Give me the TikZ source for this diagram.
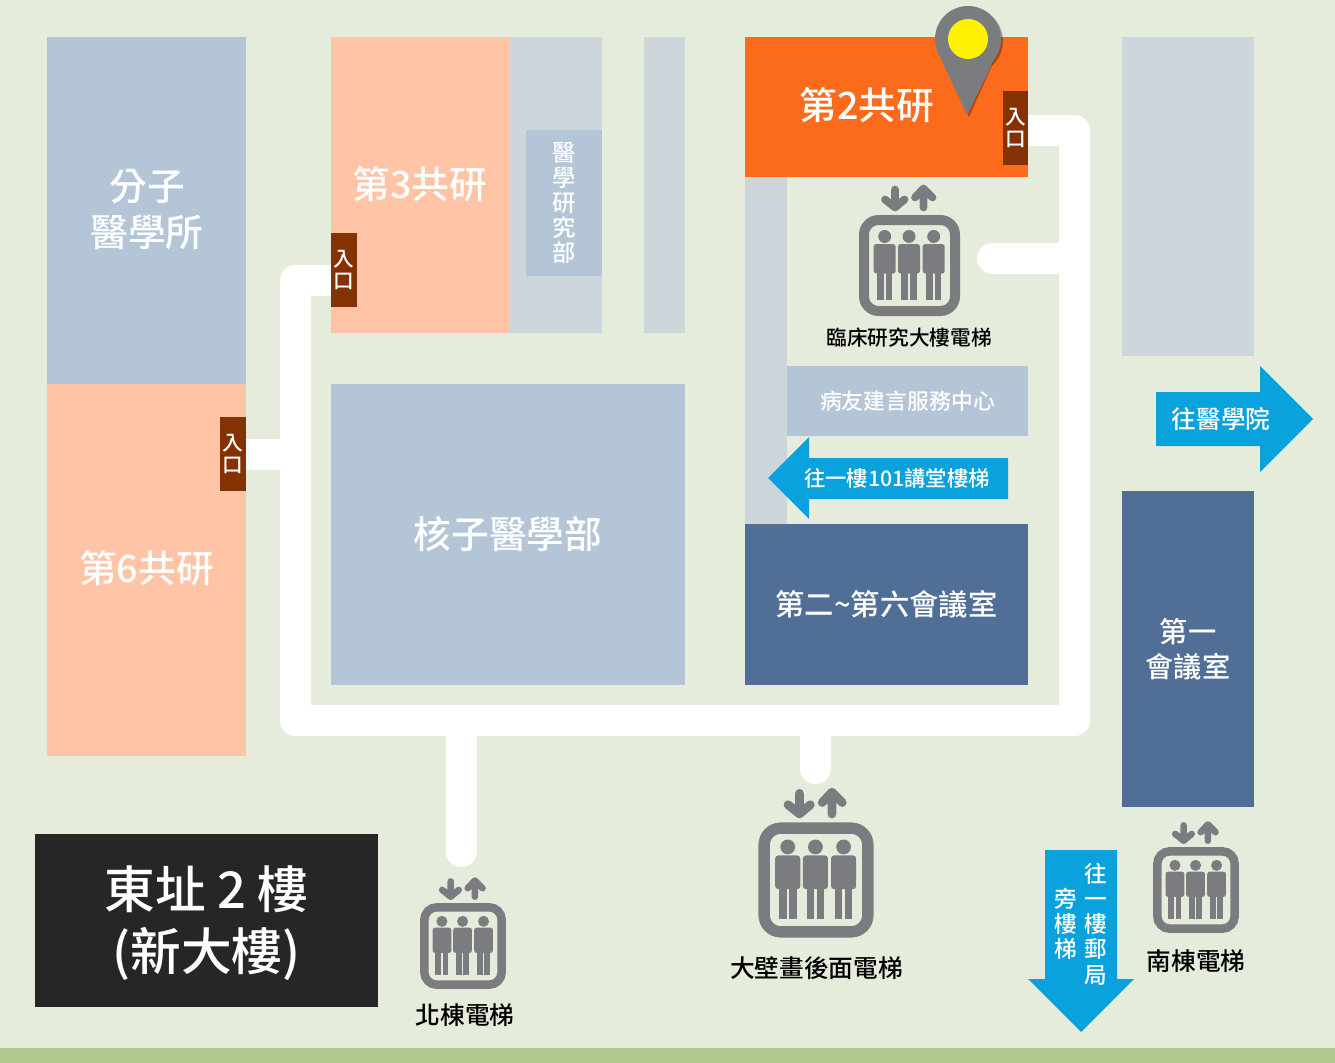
\documentclass[tikz,border=0pt]{standalone}
\usepackage{fontspec}
\usepackage{xcolor}
\usepackage{tikz}
\setmainfont{Noto Sans CJK TC Medium}
\usetikzlibrary{positioning}
\definecolor{bggreen}{HTML}{E6ECDB}
\definecolor{stripgreen}{HTML}{B2C88E}
\definecolor{paleblue}{HTML}{B5C5D8}
\definecolor{peach}{HTML}{FFC3A6}
\definecolor{palegray}{HTML}{CCD6DB}
\definecolor{deepblue}{HTML}{516E96}
\definecolor{hotorange}{HTML}{FC6A1B}
\definecolor{brickbrown}{HTML}{843203}
\definecolor{skyblue}{HTML}{0AA2DC}
\definecolor{iconGray}{HTML}{7B7C80}
\tikzset{boxed/.style 2 args={minimum width=#1*0.75pt, minimum height=#2*0.75pt}}
\tikzstyle{room} = [rectangle, draw=none, inner sep=0pt, outer sep=0pt, text=white, align=center, font=\fontsize{28.3}{34}\selectfont]
\tikzstyle{door} = [room, fill=brickbrown, font=\fontsize{15.5}{16.5}\selectfont]
\tikzstyle{walk} = [draw=white, line width=23.25pt, line cap=round, line join=round]
\tikzstyle{lbl} = [draw=none, inner sep=0pt, text=black, font=\fontsize{18.5}{22}\selectfont]
\tikzstyle{sign} = [draw=none, inner sep=0pt, text=white, align=center]
\newcommand{\liftIcon}[3]{
\begin{scope}[shift={(#1,#2)}, scale=#3, draw=iconGray, fill=iconGray]
\draw [line width=#3*7.5pt, rounded corners=#3*11pt] (-45.5,-45.5) rectangle (45.5,45.5);
\foreach \px in {-24.8,-0.5,24.2} {
\fill (\px,-29) circle [radius=6.5];
\fill [rounded corners=#3*2pt] (\px-11,-21.5) rectangle (\px+11,8);
\fill (\px-7.7,5) rectangle (\px-1,34.5);
\fill (\px+1,5) rectangle (\px+7.7,34.5);
}
\draw [line width=#3*5.8pt, line cap=round, line join=round] (-14.5,-76) -- (-14.5,-58) (-24.5,-66) -- (-14.5,-58) -- (-5,-66);
\draw [line width=#3*5.8pt, line cap=round, line join=round] (14,-58) -- (14,-77) (5.5,-68) -- (14,-77) -- (23,-68);
\end{scope}
}
\begin{document}
\begin{tikzpicture}[x=0.75pt, y=-0.75pt]
\fill [bggreen] (0,0) rectangle (1335,1063);
\fill [stripgreen] (0,1048) rectangle (1335,1063);

\draw [walk] (331,280.5) -- (295.5,280.5) -- (295.5,720.5) -- (1074.5,720.5) -- (1074.5,130.5) -- (1028,130.5);
\draw [walk] (246,454.5) -- (295.5,454.5);
\draw [walk] (992.5,258) -- (1074.5,258);
\draw [walk] (461.5,720.5) -- (461.5,851.5);
\draw [walk] (815.5,720.5) -- (815.5,768.5);

\node [room, fill=paleblue, boxed={199}{347}] (molecular) at (146.5,210.5) {};
\node [room] at (147,210) {分子\\[0.5pt]醫學所};
\node [room, fill=peach, boxed={199}{372}] (lab6) at (146.5,570) {};
\node [room] at (146.5,568.5) {第6共研};
\node [room, fill=palegray, boxed={93}{296}] (labside) at (555.5,185) {};
\node [room, fill=peach, boxed={178}{296}] (lab3) at (420,185) {};
\node [room] at (420,184) {第3共研};
\node [room, fill=paleblue, boxed={76}{146}, font=\fontsize{17.5}{18.75}\selectfont] (research) at (564,203) {醫\\學\\研\\究\\部};
\node [room, fill=palegray, boxed={41}{296}] (strip) at (664.5,185) {};
\node [room, fill=paleblue, boxed={354}{301}] (nuclear) at (508,534.5) {核子醫學部};
\node [room, fill=palegray, boxed={42}{347}] (corridor) at (766,350.5) {};
\node [room, fill=hotorange, boxed={283}{140}] (lab2) at (886.5,107) {};
\node [room] at (867,105.5) {第2共研};
\node [room, fill=paleblue, boxed={241}{70}, font=\fontsize{16.4}{20}\selectfont] (patient) at (907.5,401) {病友建言服務中心};
\node [room, fill=deepblue, boxed={283}{161}, font=\fontsize{22}{26}\selectfont] (meeting) at (886.5,604.5) {第二\textasciitilde 第六會議室};
\node [room, fill=palegray, boxed={132}{319}] (southwing) at (1188,196.5) {};
\node [room, fill=deepblue, boxed={132}{316}, font=\fontsize{21.2}{26.25}\selectfont] (meeting1) at (1188,649) {第一\\會議室};
\node [room, fill=black!85, boxed={343}{173}] (title) at (206.5,920.5) {};
\node [room, font=\fontsize{38}{46.5}\selectfont] at (206.5,923.5) {東址 2 樓\\(新大樓)};

\node [door, boxed={25}{74}] (door2) at (1015.5,128) {入\\口};
\node [door, boxed={26}{74}] (door3) at (344,270) {入\\口};
\node [door, boxed={26}{74}] (door6) at (233,454) {入\\口};

\fill [skyblue] (1156,392) -- (1260,392) -- (1260,366) -- (1313,419) -- (1260,472) -- (1260,446) -- (1156,446) -- cycle;
\node [sign, font=\fontsize{18.5}{22}\selectfont] (tomed) at (1221,419) {往醫學院};
\fill [skyblue] (1008,458) -- (809,458) -- (809,437) -- (768,478) -- (809,519) -- (809,499) -- (1008,499) -- cycle;
\node [sign, font=\fontsize{16}{20}\selectfont] (tohall) at (897,478) {往一樓101講堂樓梯};
\fill [skyblue] (1045,850) -- (1117,850) -- (1117,979) -- (1134,979) -- (1081,1032) -- (1028,979) -- (1045,979) -- cycle;
\node [sign, font=\fontsize{17}{18.9}\selectfont] (topost) at (1096,924) {往\\一\\樓\\郵\\局};
\node [sign, font=\fontsize{17}{18.9}\selectfont] (tostair) at (1066,924) {旁\\樓\\梯};

\liftIcon{909.5}{265.5}{1}
\liftIcon{816}{880}{1.14}
\liftIcon{463}{946}{0.85}
\liftIcon{1196}{890}{0.85}
\node [lbl, font=\fontsize{15.5}{20}\selectfont] (liftclinic) at (909,338) {臨床研究大樓電梯};
\node [lbl] (liftmural) at (816.5,968) {大壁畫後面電梯};
\node [lbl] (liftnorth) at (465,1015) {北棟電梯};
\node [lbl] (liftsouth) at (1196,961) {南棟電梯};

\fill [black, opacity=0.3] (970,41) circle [radius=33];
\fill [black, opacity=0.3] (938,50) -- (969,117) -- (999,50) -- cycle;
\fill [iconGray] (968,39) circle [radius=33];
\fill [iconGray] (936,48) -- (967,115) -- (997,54) -- cycle;
\fill [yellow] (968,39) circle [radius=20];
\end{tikzpicture}
\end{document}
